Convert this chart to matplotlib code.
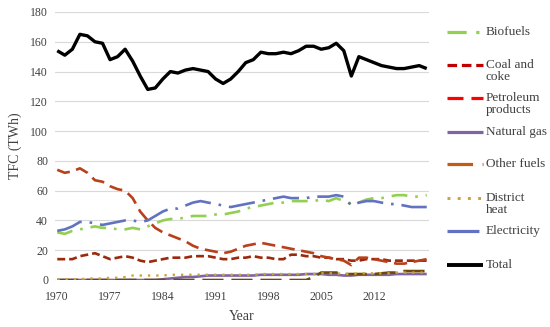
import numpy as np
import matplotlib
matplotlib.use("Agg")
import matplotlib.pyplot as plt
from matplotlib.lines import Line2D

years = np.arange(1970, 2020)

total = [154, 151, 155, 165, 164, 160, 159, 148, 150, 155,
         147, 137, 128, 129, 135, 140, 139, 141, 142, 141,
         140, 135, 132, 135, 140, 146, 148, 153, 152, 152,
         153, 152, 154, 157, 157, 155, 156, 159, 154, 137,
         150, 148, 146, 144, 143, 142, 142, 143, 144, 142]

biofuels = [32, 31, 33, 34, 35, 36, 35, 35, 34, 34,
            35, 34, 36, 38, 40, 41, 41, 42, 43, 43,
            43, 44, 44, 45, 46, 48, 49, 50, 51, 52,
            52, 53, 53, 53, 53, 54, 53, 55, 53, 51,
            52, 54, 55, 55, 56, 57, 57, 56, 56, 57]

coal_coke = [14, 14, 14, 16, 17, 18, 16, 14, 15, 16,
             15, 13, 12, 13, 14, 15, 15, 15, 16, 16,
             16, 15, 14, 14, 15, 15, 16, 15, 15, 14,
             14, 17, 17, 16, 16, 15, 15, 14, 14, 13,
             13, 14, 14, 14, 13, 13, 13, 13, 13, 13]

petroleum = [74, 72, 73, 75, 72, 67, 66, 63, 61, 60,
             55, 46, 40, 35, 32, 30, 28, 26, 23, 21,
             20, 19, 18, 19, 21, 23, 24, 25, 24, 23,
             22, 21, 20, 19, 18, 16, 15, 14, 13, 10,
             15, 15, 14, 13, 12, 11, 11, 12, 13, 14]

natural_gas = [0, 0, 0, 0, 0, 0, 0, 0, 0, 0,
               0, 0, 0, 0, 0.5, 1, 1.5, 2, 2, 2.5,
               3, 3, 3, 3, 3, 3, 3, 3.5, 3.5, 3.5,
               3.5, 3.5, 3.5, 4, 4, 4, 3.5, 3.5, 3, 3,
               3.5, 3.5, 3.5, 3.5, 3.5, 4, 4, 4, 4, 4]

other_fuels = [0, 0, 0, 0, 0, 0, 0, 0, 0, 0,
               0, 0, 0, 0, 0, 0, 0, 0, 0, 0,
               0, 0, 0, 0, 0, 0, 0, 0, 0, 0,
               0, 0, 0, 0, 2, 5, 5, 5, 4, 4,
               4, 4, 4, 4.5, 5, 5, 6, 6, 6, 6]

district_heat = [0.5, 0.5, 0.5, 0.5, 1, 1, 1, 1.5, 1.5, 2,
                 3, 3, 3, 3, 3, 3.5, 3.5, 3.5, 3.5, 3.5,
                 3.5, 3.5, 3.5, 3.5, 3.5, 3.5, 3.5, 4, 4, 4,
                 4, 4, 4, 4, 4, 4.5, 4.5, 4.5, 4, 4,
                 4.5, 4.5, 4.5, 4.5, 4.5, 5, 5, 5, 5, 5]

electricity = [33, 34, 36, 39, 39, 38, 37, 38, 39, 40,
               40, 39, 40, 43, 46, 48, 48, 50, 52, 53,
               52, 51, 50, 49, 50, 51, 52, 53, 54, 55,
               56, 55, 55, 55, 56, 56, 56, 57, 56, 50,
               52, 53, 53, 52, 51, 51, 50, 49, 49, 49]

# (label, data, color, dashes, linewidth)
series = [
    ("Biofuels", biofuels, "#92D050", (6, 3, 1, 3), 1.9),
    ("Coal and\ncoke", coal_coke, "#9B2A0C", (3, 1.5), 1.9),
    ("Petroleum\nproducts", petroleum, "#B8401A", (5, 2.5), 1.9),
    ("Natural gas", natural_gas, "#8064A2", None, 1.9),
    ("Other fuels", other_fuels, "#6B4A08", (8, 3), 1.9),
    ("District\nheat", district_heat, "#C9A33C", (1, 2.5), 1.7),
    ("Electricity", electricity, "#6272C0", (10, 3, 1, 3), 1.9),
    ("Total", total, "black", None, 2.4),
]
legend_colors = ["#92D050", "#C00000", "#FF0000", "#8064A2",
                 "#C55A11", "#C9A33C", "#6272C0", "black"]

serif = ["Liberation Serif", "DejaVu Serif"]

fig = plt.figure(figsize=(5.5, 3.27), dpi=100)
ax = fig.add_axes([55 / 550, 1 - 280 / 327, 374 / 550, 268 / 327])

for label, data, color, dashes, lw in series:
    line, = ax.plot(years, data, color=color, lw=lw, solid_capstyle="butt")
    if dashes is not None:
        line.set_dashes(dashes)

ax.set_xlim(1969.7, 2019.3)
ax.set_ylim(0, 180)
ax.set_yticks(range(0, 181, 20))
ax.set_xticks(range(1970, 2019, 7))
ax.grid(axis="y", color="#D9D9D9", lw=0.8)
ax.set_axisbelow(True)
for s in ax.spines.values():
    s.set_visible(False)
ax.tick_params(length=0, labelsize=8.5, colors="#404040")
ax.tick_params(axis="x", pad=8)
ax.tick_params(axis="y", pad=5)
for t in ax.get_xticklabels() + ax.get_yticklabels():
    t.set_family(serif)
ax.set_xlabel("Year", family=serif, fontsize=10, color="#404040", labelpad=5)
ax.set_ylabel("TFC (TWh)", family=serif, fontsize=10, color="#404040", labelpad=6)

# legend drawn on the right, rows at pixel heights like the reference
rows = [32, 65, 98, 132, 164, 198, 231, 265]
for (label, data, color, dashes, lw), lc, ypx in zip(series, legend_colors, rows):
    y = 1 - ypx / 327
    h = Line2D([447 / 550, 483 / 550], [y, y], transform=fig.transFigure,
               color=lc, lw=lw + 0.4, solid_capstyle="butt")
    if dashes is not None:
        h.set_dashes(dashes)
    fig.add_artist(h)
    fig.text(486 / 550, y + 6 / 327, label, family=serif, fontsize=9.5,
             color="#404040", va="top", linespacing=1.05)

fig.savefig("out.png", dpi=100)
